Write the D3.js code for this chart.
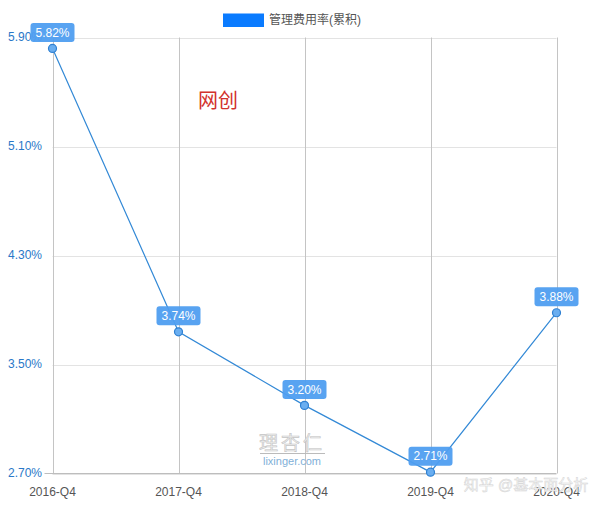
<!DOCTYPE html>
<html><head><meta charset="utf-8">
<script src="https://cdn.jsdelivr.net/npm/d3@7"></script>
<style>body{margin:0;background:#fff;}svg{display:block;font-family:"Liberation Sans",Arial,"Noto Sans CJK SC",sans-serif;}</style>
</head><body>
<svg id="c" width="591" height="506"></svg>
<script>
const categories = ["2016-Q4","2017-Q4","2018-Q4","2019-Q4","2020-Q4"];
const values = [5.82, 3.74, 3.20, 2.71, 3.88];
const yTicks = [2.70, 3.50, 4.30, 5.10, 5.90];
const seriesName = "管理费用率(累积)";
const companyName = "网创";

(function () {
const svg = d3.select("#c");
const pLeft = 52.5, pRight = 556.5, pTop = 37.5, pBottom = 473.5;
const x = d3.scalePoint().domain(categories).range([pLeft, pRight]);
const y = d3.scaleLinear().domain([2.70, 5.90]).range([pBottom, pTop]);

// horizontal grid
svg.append("g").selectAll("line").data(yTicks).join("line")
  .attr("x1", pLeft).attr("x2", pRight)
  .attr("y1", d => Math.round(y(d)) + 0.5).attr("y2", d => Math.round(y(d)) + 0.5)
  .attr("stroke", "#e3e3e3").attr("stroke-width", 1);
// vertical grid
svg.append("g").selectAll("line").data(categories).join("line")
  .attr("x1", d => Math.round(x(d)) + 0.5).attr("x2", d => Math.round(x(d)) + 0.5)
  .attr("y1", pTop).attr("y2", pBottom)
  .attr("stroke", "#c4c4c4").attr("stroke-width", 1);
// bottom axis line
svg.append("line").attr("x1", pLeft - 8).attr("x2", pRight).attr("y1", pBottom).attr("y2", pBottom)
  .attr("stroke", "#bdbdbd");

// y labels
svg.append("g").selectAll("text").data(yTicks).join("text")
  .attr("x", 42).attr("y", d => y(d) - 1).attr("dy", "0.35em")
  .attr("text-anchor", "end").attr("font-size", 12).attr("fill", "#2a78c8")
  .text(d => d.toFixed(2) + "%");
// x labels
svg.append("g").selectAll("text").data(categories).join("text")
  .attr("x", d => x(d)).attr("y", 492).attr("dy", "0.35em")
  .attr("text-anchor", "middle").attr("font-size", 12).attr("fill", "#555")
  .text(d => d);

// watermarks
svg.append("text").attr("x", 292).attr("y", 450).attr("text-anchor", "middle")
  .attr("font-size", 19).attr("fill", "#eeeeee").attr("stroke", "#c4c4c4").attr("stroke-width", 0.6)
  .attr("letter-spacing", 3).text("理杏仁");
svg.append("line").attr("x1", 260).attr("x2", 325).attr("y1", 453.5).attr("y2", 453.5).attr("stroke", "#bbb");
svg.append("text").attr("x", 292).attr("y", 465).attr("text-anchor", "middle")
  .attr("font-size", 11).attr("fill", "#7fb0d8").text("lixinger.com");

// company name
svg.append("text").attr("x", 218).attr("y", 101).attr("dy", "0.35em").attr("text-anchor", "middle")
  .attr("font-size", 20).attr("fill", "#d2322d").text(companyName);

// line
const line = d3.line().x((d, i) => x(categories[i])).y(d => y(d));
svg.append("path").datum(values).attr("d", line)
  .attr("fill", "none").attr("stroke", "#3389d6").attr("stroke-width", 1.2);
svg.append("g").selectAll("circle").data(values).join("circle")
  .attr("cx", (d, i) => x(categories[i])).attr("cy", d => y(d)).attr("r", 4)
  .attr("fill", "#6aaef0").attr("stroke", "#2f80d2").attr("stroke-width", 1.2);

// labels
const lg = svg.append("g").selectAll("g").data(values).join("g")
  .attr("transform", (d, i) => `translate(${x(categories[i])},${y(d) - 16})`);
lg.append("rect").attr("x", -22).attr("y", -9.5).attr("width", 44).attr("height", 19).attr("rx", 3)
  .attr("fill", "#4f9ef0").attr("fill-opacity", 0.95);
lg.append("text").attr("y", 0).attr("dy", "0.35em").attr("text-anchor", "middle")
  .attr("font-size", 12).attr("fill", "#fff").text(d => d.toFixed(2) + "%");

// zhihu watermark
svg.append("text").attr("x", 526).attr("y", 485).attr("dy", "0.35em").attr("text-anchor", "middle")
  .attr("font-size", 15).attr("fill", "#fafafa").attr("stroke", "#d4d4d4").attr("stroke-width", 0.5)
  .text("知乎 @基本面分析");

// legend
svg.append("rect").attr("x", 223).attr("y", 13.5).attr("width", 41).attr("height", 13.5).attr("fill", "#0a7bff");
svg.append("text").attr("x", 269).attr("y", 20).attr("dy", "0.35em").attr("font-size", 12)
  .attr("fill", "#555").text(seriesName);
})();
</script>
</body></html>
